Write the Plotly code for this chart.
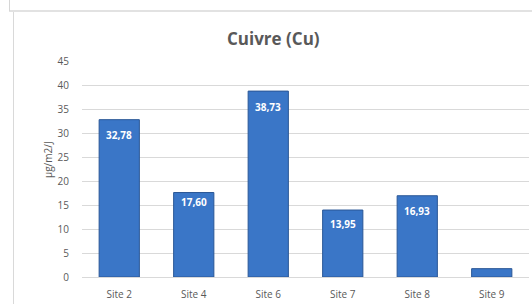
import plotly.graph_objects as go

# ---- data ----
sites = ["Site 2", "Site 4", "Site 6", "Site 7", "Site 8", "Site 9"]
values = [32.78, 17.60, 38.73, 13.95, 16.93, 1.74]
y_ticks = [0, 5, 10, 15, 20, 25, 30, 35, 40, 45]
title_text = "Cuivre (Cu)"
y_title = "µg/m2/J"

# ---- style ----
GRAY = "#595959"
FONT = "Open Sans"
label_shift = [-15, -9, -16, -14, -15, -15]

labels = [f"{v:.2f}".replace(".", ",") for v in values]

W, H = 532, 304
L, R, T, B = 82, 3, 61, 27
pw, ph = W - L - R, H - T - B


def px(x):
    return (x - L) / pw


def py(y):
    return (H - B - y) / ph


fig = go.Figure()
fig.add_trace(go.Bar(
    x=sites, y=values,
    marker=dict(color="#3a76c7", line=dict(color="#2a5796", width=1)),
    hoverinfo="x+y",
))

annotations = []
for s, v, lab, sh in zip(sites, values, labels, label_shift):
    if v < 5:
        continue
    annotations.append(dict(
        x=s, y=v, xref="x", yref="y", text=f"<b>{lab}</b>", showarrow=False,
        yshift=sh, yanchor="middle", font=dict(family=FONT, size=10, color="white"),
    ))

annotations.append(dict(
    x=px(273.5), y=py(38), xref="paper", yref="paper", text=f"<b>{title_text}</b>",
    showarrow=False, xanchor="center", yanchor="middle",
    font=dict(family=FONT, size=17, color=GRAY),
))
annotations.append(dict(
    x=px(48), y=py(160), xref="paper", yref="paper", text=y_title, textangle=-90,
    showarrow=False, xanchor="center", yanchor="middle",
    font=dict(family=FONT, size=10, color=GRAY),
))

shapes = [
    dict(type="line", xref="paper", yref="paper", x0=px(9), x1=px(532), y0=py(11), y1=py(11),
         line=dict(color="#e2e2e2", width=2)),
    dict(type="line", xref="paper", yref="paper", x0=px(9.5), x1=px(9.5), y0=py(0), y1=py(11),
         line=dict(color="#d6d6d6", width=1)),
    dict(type="line", xref="paper", yref="paper", x0=px(13.5), x1=px(13.5), y0=py(12), y1=py(304),
         line=dict(color="#d9d9d9", width=1)),
]

fig.update_layout(
    width=W, height=H,
    margin=dict(l=L, r=R, t=T, b=B, pad=0),
    paper_bgcolor="white", plot_bgcolor="white",
    showlegend=False,
    bargap=0.46,
    font=dict(family=FONT, size=10, color=GRAY),
    annotations=annotations,
    shapes=shapes,
    xaxis=dict(showgrid=False, showline=True, linecolor="#d9d9d9", linewidth=1,
               ticks="", tickfont=dict(size=10, color=GRAY), ticklabelstandoff=8,
               fixedrange=True),
    yaxis=dict(range=[0, 45], tickvals=y_ticks, showgrid=True, gridcolor="#d9d9d9",
               gridwidth=1, zeroline=False, showline=False, ticks="",
               tickfont=dict(size=10, color=GRAY), ticklabelstandoff=12,
               fixedrange=True),
)

fig.write_html(
    "out.html",
    config={"displayModeBar": False},
    post_script="document.body.style.margin='0';document.body.style.overflow='hidden';",
)
